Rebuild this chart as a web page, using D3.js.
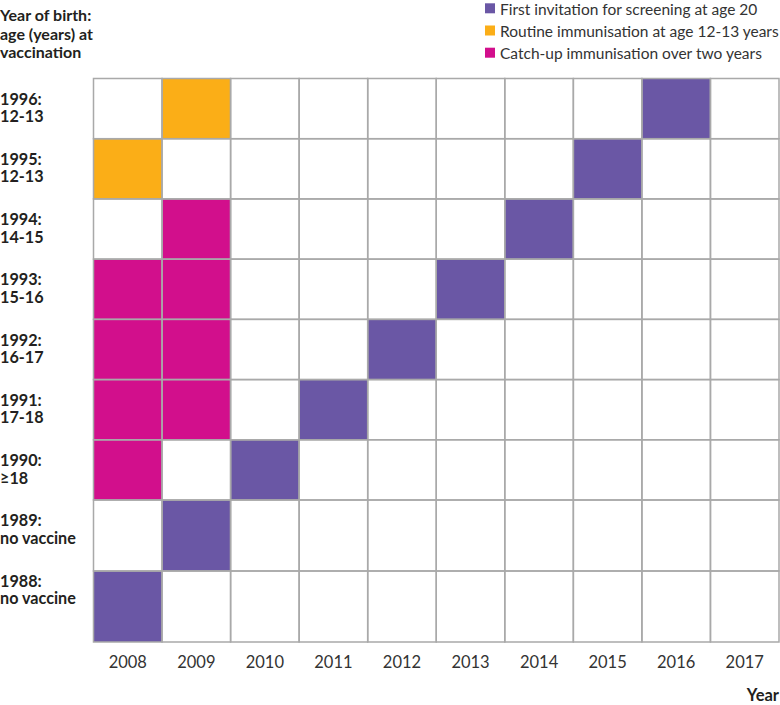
<!DOCTYPE html>
<html>
<head>
<meta charset="utf-8">
<script src="https://cdn.jsdelivr.net/npm/d3@7"></script>
<style>
  html, body { margin: 0; padding: 0; background: #fff; }
  svg { display: block; font-family: Lato, "Open Sans", sans-serif; }
</style>
</head>
<body>
<svg id="chart" width="780" height="705"></svg>
<script>
// ---- data ----
const years = ["2008","2009","2010","2011","2012","2013","2014","2015","2016","2017"];
const birthYears = ["1996","1995","1994","1993","1992","1991","1990","1989","1988"];
const ageLabels = ["12-13","12-13","14-15","15-16","16-17","17-18","\u226518","no vaccine","no vaccine"];
const screening = [["1996","2016"],["1995","2015"],["1994","2014"],["1993","2013"],["1992","2012"],["1991","2011"],["1990","2010"],["1989","2009"],["1988","2008"]];
const routine = [["1996","2009"],["1995","2008"]];
const catchup = [["1994","2009"],["1993","2008"],["1993","2009"],["1992","2008"],["1992","2009"],["1991","2008"],["1991","2009"],["1990","2008"]];
const legendLabels = ["First invitation for screening at age 20","Routine immunisation at age 12-13 years","Catch-up immunisation over two years"];
const titleLines = ["Year of birth:","age (years) at","vaccination"];
const xTitle = "Year";

// ---- styles ----
const colors = { screening: "#6a57a5", routine: "#fbae17", catchup: "#d20f8c" };
const gridColor = "#a9a9a9";
const textDark = "#231f20";

const svg = d3.select("#chart");

// ---- scales ----
const x = d3.scaleBand().domain(years).range([93.5, 779]).padding(0);
// row edges: first seven rows share equal height, last two rows are taller
const rowEdge = d3.scaleLinear().domain([0, 7, 9]).range([78.5, 500, 642]);
const rowIndex = d3.scaleOrdinal().domain(birthYears).range(d3.range(birthYears.length));
const yTop = b => rowEdge(rowIndex(b));
const yH = b => rowEdge(rowIndex(b) + 1) - rowEdge(rowIndex(b));
const labelY = d3.scalePoint().domain(birthYears).range([104.5, 586.7]);

// ---- grid cells ----
const allCells = [];
birthYears.forEach(b => years.forEach(y => allCells.push([b, y])));
const gGrid = svg.append("g");
gGrid.selectAll("rect.bg").data(allCells).join("rect")
  .attr("x", d => x(d[1])).attr("y", d => yTop(d[0]))
  .attr("width", x.bandwidth()).attr("height", d => yH(d[0]))
  .attr("fill", "#fff");

function drawCells(data, color) {
  gGrid.append("g").selectAll("rect").data(data).join("rect")
    .attr("x", d => x(d[1])).attr("y", d => yTop(d[0]))
    .attr("width", x.bandwidth()).attr("height", d => yH(d[0]))
    .attr("fill", color);
}
drawCells(routine, colors.routine);
drawCells(catchup, colors.catchup);
drawCells(screening, colors.screening);

gGrid.append("g").selectAll("rect").data(allCells).join("rect")
  .attr("x", d => x(d[1])).attr("y", d => yTop(d[0]))
  .attr("width", x.bandwidth()).attr("height", d => yH(d[0]))
  .attr("fill", "none").attr("stroke", gridColor).attr("stroke-width", 1.5);

// ---- x axis labels ----
svg.append("g").selectAll("text").data(years).join("text")
  .attr("x", d => x(d) + x.bandwidth() / 2).attr("y", 668)
  .attr("text-anchor", "middle").attr("font-size", 16.5).attr("fill", "#333")
  .text(d => d);
svg.append("text").attr("x", 779).attr("y", 701).attr("text-anchor", "end")
  .attr("font-size", 16.5).attr("font-weight", "bold").attr("fill", textDark).text(xTitle);

// ---- row labels ----
const gRow = svg.append("g");
birthYears.forEach((b, i) => {
  const t = gRow.append("text").attr("x", 0).attr("y", labelY(b))
    .attr("font-size", 16.2).attr("font-weight", "bold").attr("fill", textDark);
  t.append("tspan").attr("x", 0).text(b + ":");
  t.append("tspan").attr("x", 0).attr("dy", 17.5).text(ageLabels[i]);
});

// ---- y title ----
svg.append("g").selectAll("text").data(titleLines).join("text")
  .attr("x", 0).attr("y", (d, i) => 20.7 + i * 18.8)
  .attr("font-size", 16).attr("font-weight", "bold").attr("fill", textDark)
  .text(d => d);

// ---- legend ----
const legColors = [colors.screening, colors.routine, colors.catchup];
const leg = svg.append("g").selectAll("g").data(legendLabels).join("g")
  .attr("transform", (d, i) => `translate(485, ${i * 22.2})`);
leg.append("rect").attr("x", 0).attr("y", 3.3).attr("width", 10).attr("height", 10)
  .attr("fill", (d, i) => legColors[i]);
leg.append("text").attr("x", 15).attr("y", 15).attr("font-size", 15.5).attr("fill", "#333")
  .text(d => d);
</script>
</body>
</html>
